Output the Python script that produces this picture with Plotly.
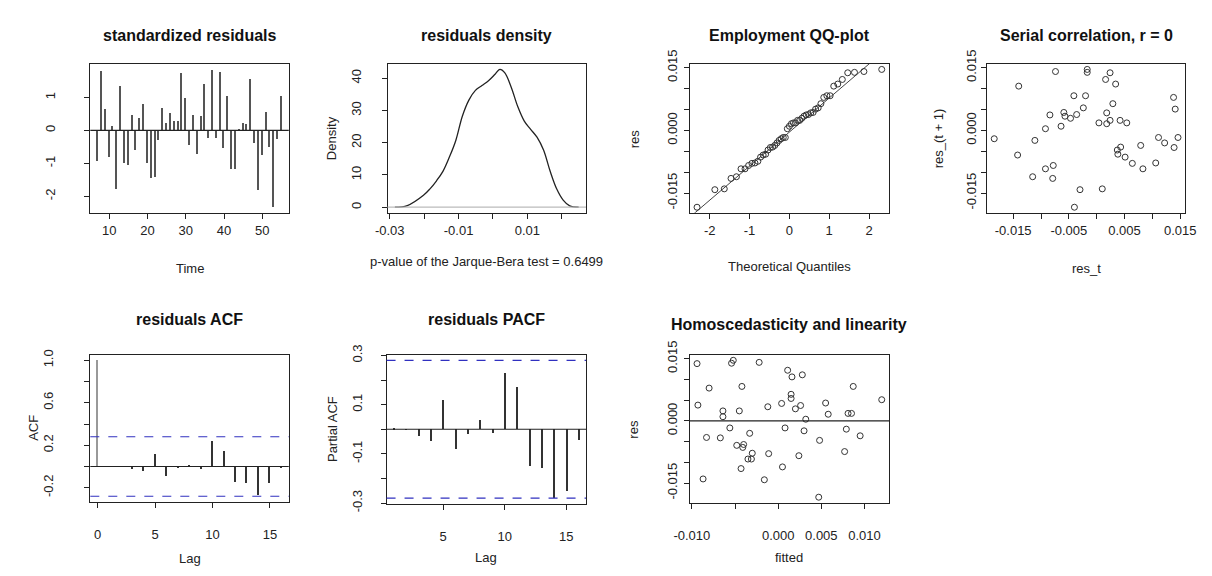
import plotly.graph_objects as go
import numpy as np
from statistics import NormalDist

# ---------------- data ----------------
time_idx = list(range(7, 56))
std_resid = [-0.94, 1.79, 0.64, -0.81, 0.13, -1.77, 1.34, -0.99, -1.06, 0.47,
             -0.60, 0.37, 0.81, -1.00, -1.45, -1.40, -0.30, 0.68, 0.23, 0.53,
             0.30, 0.30, 1.75, 1.00, -0.45, 0.48, -0.72, 0.43, 1.40, -0.22,
             1.85, -0.22, 1.76, -0.52, 1.05, -1.17, -1.17, 0.05, 0.23, 0.20,
             1.55, -0.38, -1.80, -0.75, 0.55, -0.50, -2.33, -0.25, 1.05]
res = [-0.0074, 0.0141, 0.0051, -0.0064, 0.0010, -0.0140, 0.0106, -0.0078, -0.0084, 0.0037,
       -0.0047, 0.0029, 0.0064, -0.0079, -0.0115, -0.0111, -0.0024, 0.0054, 0.0018, 0.0042,
       0.0024, 0.0024, 0.0138, 0.0079, -0.0036, 0.0038, -0.0057, 0.0034, 0.0111, -0.0017,
       0.0146, -0.0017, 0.0139, -0.0041, 0.0083, -0.0092, -0.0092, 0.0004, 0.0018, 0.0016,
       0.0122, -0.0030, -0.0142, -0.0059, 0.0043, -0.0040, -0.0184, -0.0020, 0.0083]
fitted = [0.0077, -0.0022, 0.0120, -0.0041, -0.0064, -0.0087, 0.0016, -0.0030, 0.0024, 0.0026,
          0.0048, 0.0020, 0.0015, -0.0011, -0.0043, 0.0005, 0.0030, 0.0015, 0.0081, 0.0004,
          -0.0045, -0.0064, -0.0094, -0.0080, 0.0095, -0.0093, -0.0040, -0.0012, 0.0028, -0.0056,
          -0.0052, 0.0008, -0.0054, -0.0067, -0.0042, -0.0035, -0.0031, 0.0032, 0.0085, 0.0058,
          0.0011, -0.0033, -0.0016, -0.0048, 0.0055, -0.0083, 0.0047, 0.0079, 0.0087]
dens_x = [-0.0285, -0.0249, -0.0202, -0.0183, -0.0164, -0.0145, -0.0126, -0.0108, -0.0089,
          -0.0070, -0.0051, -0.0032, -0.0013, 0.0006, 0.0020, 0.0034, 0.0053, 0.0072, 0.0091,
          0.0109, 0.0128, 0.0147, 0.0166, 0.0185, 0.0204, 0.0223, 0.0249]
dens_y = [0.0, 0.5, 3.7, 5.7, 8.2, 11.2, 15.7, 20.7, 28.2, 33.2, 36.2, 37.7, 39.2, 41.2,
          42.7, 41.7, 37.2, 31.2, 26.7, 24.2, 21.7, 17.7, 11.2, 5.7, 2.2, 0.4, 0.0]
acf_lags = list(range(0, 17))
acf_vals = [1.0, 0.004, 0.0, -0.02, -0.04, 0.12, -0.09, -0.01, 0.02, -0.02,
            0.24, 0.15, -0.14, -0.15, -0.27, -0.15, -0.01]
pacf_lags = list(range(1, 17))
pacf_vals = [0.005, -0.002, -0.026, -0.047, 0.12, -0.08, -0.017, 0.04, -0.013,
             0.229, 0.171, -0.15, -0.158, -0.278, -0.25, -0.043]
conf_limit = 0.28
jb_pvalue = 0.6499
serial_r = 0

# tick labels
t1_x = [10, 20, 30, 40, 50]
t1_y = [-2, -1, 0, 1]
t2_x = [-0.03, -0.02, -0.01, 0.0, 0.01, 0.02]
t2_xlab = ["-0.03", "", "-0.01", "", "0.01", ""]
t2_y = [0, 10, 20, 30, 40]
res_ticks = [-0.015, -0.010, -0.005, 0.0, 0.005, 0.010, 0.015]
res_ticklab = ["-0.015", "", "", "0.000", "", "", "0.015"]
t3_x = [-2, -1, 0, 1, 2]
t4_xlab = ["-0.015", "", "-0.005", "", "0.005", "", "0.015"]
t5_x = [0, 5, 10, 15]
t5_y = [-0.2, 0.0, 0.2, 0.4, 0.6, 0.8, 1.0]
t5_ylab = ["-0.2", "", "0.2", "", "0.6", "", "1.0"]
t6_x = [5, 10, 15]
t6_y = [-0.3, -0.2, -0.1, 0.0, 0.1, 0.2, 0.3]
t6_ylab = ["-0.3", "", "-0.1", "", "0.1", "", "0.3"]
t7_x = [-0.010, -0.005, 0.0, 0.005, 0.010]
t7_xlab = ["-0.010", "", "0.000", "0.005", "0.010"]

# ---------------- layout geometry ----------------
W, H = 1212, 576
FONT = "Liberation Sans, Arial, sans-serif"
INK = "#222222"
boxes = {  # left, right, top, bottom in pixels
    1: (76, 279, 52, 207),
    2: (380, 583, 52, 207),
    3: (689, 893, 52, 207),
    4: (993, 1196, 52, 207),
    5: (76, 279, 355, 508),
    6: (379, 583, 355, 510),
    7: (689, 893, 355, 509),
}
y_standoff = {1: 24, 2: 15, 3: 1, 4: 0, 5: 26, 6: 13, 7: 1}
x_standoff = {1: 1, 2: 1, 3: 1, 4: 1, 5: 16, 6: 16, 7: 16}


def pad(lo, hi):
    d = (hi - lo) * 0.04
    return [lo - d, hi + d]


fig = go.Figure()

def axname(i, a):
    return a if i == 1 else f"{a}{i}"

# Panel 1: standardized residuals
fig.add_trace(go.Bar(x=time_idx, y=std_resid, width=0.38, marker_color="#555555",
                     marker_line_width=0, xaxis="x", yaxis="y"))
# Panel 2: density
fig.add_trace(go.Scatter(x=dens_x, y=dens_y, mode="lines", line=dict(color=INK, width=1.3, shape="spline"),
                         xaxis="x2", yaxis="y2"))
# Panel 3: QQ plot
n = len(res)
nd = NormalDist()
theo = [nd.inv_cdf((i + 0.5) / n) for i in range(n)]
samp = sorted(res)
q1, q3 = np.quantile(res, [0.25, 0.75])
x1, x3 = nd.inv_cdf(0.25), nd.inv_cdf(0.75)
slope = (q3 - q1) / (x3 - x1)
icpt = q1 - slope * x1
qx_range = pad(min(theo), max(theo))
fig.add_trace(go.Scatter(x=qx_range, y=[icpt + slope * v for v in qx_range], mode="lines",
                         line=dict(color="#444444", width=1), xaxis="x3", yaxis="y3"))
fig.add_trace(go.Scatter(x=theo, y=samp, mode="markers",
                         marker=dict(symbol="circle-open", size=6, color="#333333", line=dict(width=1)),
                         xaxis="x3", yaxis="y3"))
# Panel 4: serial correlation
fig.add_trace(go.Scatter(x=res[:-1], y=res[1:], mode="markers",
                         marker=dict(symbol="circle-open", size=6, color="#333333", line=dict(width=1)),
                         xaxis="x4", yaxis="y4"))
# Panel 5: ACF
fig.add_trace(go.Bar(x=acf_lags, y=acf_vals, width=0.12,
                     marker_color=["#999999"] + ["#333333"] * (len(acf_lags) - 1),
                     marker_line_width=0, xaxis="x5", yaxis="y5"))
# Panel 6: PACF
fig.add_trace(go.Bar(x=pacf_lags, y=pacf_vals, width=0.12, marker_color="#333333",
                     marker_line_width=0, xaxis="x6", yaxis="y6"))
# Panel 7: fitted vs res
fig.add_trace(go.Scatter(x=fitted, y=res, mode="markers",
                         marker=dict(symbol="circle-open", size=6, color="#333333", line=dict(width=1)),
                         xaxis="x7", yaxis="y7"))

res_range = pad(min(res), max(res))
specs = {
    1: dict(xr=pad(min(time_idx), max(time_idx)), yr=pad(min(std_resid), max(std_resid)),
            xt=t1_x, xl=[str(v) for v in t1_x], yt=t1_y, yl=[str(v) for v in t1_y]),
    2: dict(xr=pad(min(dens_x), max(dens_x)), yr=pad(min(dens_y), max(dens_y)),
            xt=t2_x, xl=t2_xlab, yt=t2_y, yl=[str(v) for v in t2_y]),
    3: dict(xr=qx_range, yr=res_range, xt=t3_x, xl=[str(v) for v in t3_x], yt=res_ticks, yl=res_ticklab),
    4: dict(xr=pad(min(res[:-1]), max(res[:-1])), yr=pad(min(res[1:]), max(res[1:])),
            xt=res_ticks, xl=t4_xlab, yt=res_ticks, yl=res_ticklab),
    5: dict(xr=pad(0, 16), yr=pad(-conf_limit, max(acf_vals)), xt=t5_x, xl=[str(v) for v in t5_x],
            yt=t5_y, yl=t5_ylab),
    6: dict(xr=pad(1, 16), yr=pad(-conf_limit, conf_limit), xt=t6_x, xl=[str(v) for v in t6_x],
            yt=t6_y, yl=t6_ylab),
    7: dict(xr=pad(min(fitted), max(fitted)), yr=res_range, xt=t7_x, xl=t7_xlab,
            yt=res_ticks, yl=res_ticklab),
}

layout = dict(width=W, height=H, margin=dict(l=0, r=0, t=0, b=0), showlegend=False,
              paper_bgcolor="white", plot_bgcolor="white", bargap=0,
              font=dict(family=FONT, size=13, color=INK))
for i, (l, r, t, b) in boxes.items():
    s = specs[i]
    common = dict(showline=True, mirror=True, linecolor=INK, linewidth=1, ticks="outside",
                  ticklen=5, tickcolor=INK, showgrid=False, zeroline=False,
                  tickfont=dict(family=FONT, size=13, color=INK))
    layout[axname(i, "xaxis")] = dict(common, domain=[l / W, r / W], anchor=axname(i, "y"),
                                       range=s["xr"], tickmode="array", tickvals=s["xt"],
                                       ticktext=s["xl"], ticklabelstandoff=x_standoff[i])
    layout[axname(i, "yaxis")] = dict(common, domain=[1 - b / H, 1 - t / H], anchor=axname(i, "x"),
                                       range=s["yr"], tickmode="array", tickvals=s["yt"],
                                       ticktext=s["yl"], tickangle=-90,
                                       ticklabelstandoff=y_standoff[i])
fig.update_layout(**layout)

# reference lines
shapes = []
for i, col in [(1, INK), (2, "#bbbbbb"), (5, INK), (6, INK), (7, INK)]:
    shapes.append(dict(type="line", xref=f"{axname(i, 'x')} domain", yref=axname(i, "y"),
                       x0=0, x1=1, y0=0, y1=0, line=dict(color=col, width=1.2)))
for i in (5, 6):
    for v in (conf_limit, -conf_limit):
        shapes.append(dict(type="line", xref=f"{axname(i, 'x')} domain", yref=axname(i, "y"),
                           x0=0, x1=1, y0=v, y1=v, line=dict(color="#3030c0", width=1.2, dash="dash")))
fig.update_layout(shapes=shapes)

# titles and axis labels
titles = {1: ("standardized residuals", 22), 2: ("residuals density", 22), 3: ("Employment QQ-plot", 22),
          4: (f"Serial correlation, r = {serial_r}", 22), 5: ("residuals ACF", 318),
          6: ("residuals PACF", 318), 7: ("Homoscedasticity and linearity", 323)}
xlabels = {1: ("Time", 265), 2: (f"p-value of the Jarque-Bera test = {jb_pvalue}", 258),
           3: ("Theoretical Quantiles", 263), 4: ("res_t", 265), 5: ("Lag", 567),
           6: ("Lag", 566), 7: ("fitted", 566)}
ylabels = {2: ("Density", 323), 3: ("res", 632), 4: ("res_(t + 1)", 943), 5: ("ACF", 18),
           6: ("Partial ACF", 323), 7: ("res", 632)}
ann = []
for i, (l, r, t, b) in boxes.items():
    cx = (l + r) / 2 / W
    txt, yp = titles[i]
    ann.append(dict(text=f"<b>{txt}</b>", x=cx, y=1 - yp / H, xref="paper", yref="paper",
                    showarrow=False, xanchor="center", yanchor="middle",
                    font=dict(family=FONT, size=16, color="#111111")))
    txt, yp = xlabels[i]
    ann.append(dict(text=txt, x=cx, y=1 - yp / H, xref="paper", yref="paper", showarrow=False,
                    xanchor="center", yanchor="middle", font=dict(family=FONT, size=13, color=INK)))
    if i in ylabels:
        txt, xp = ylabels[i]
        ann.append(dict(text=txt, x=xp / W, y=1 - (t + b) / 2 / H, xref="paper", yref="paper",
                        showarrow=False, textangle=-90, xanchor="center", yanchor="middle",
                        font=dict(family=FONT, size=13, color=INK)))
fig.update_layout(annotations=ann)

fig.write_html("out.html")
